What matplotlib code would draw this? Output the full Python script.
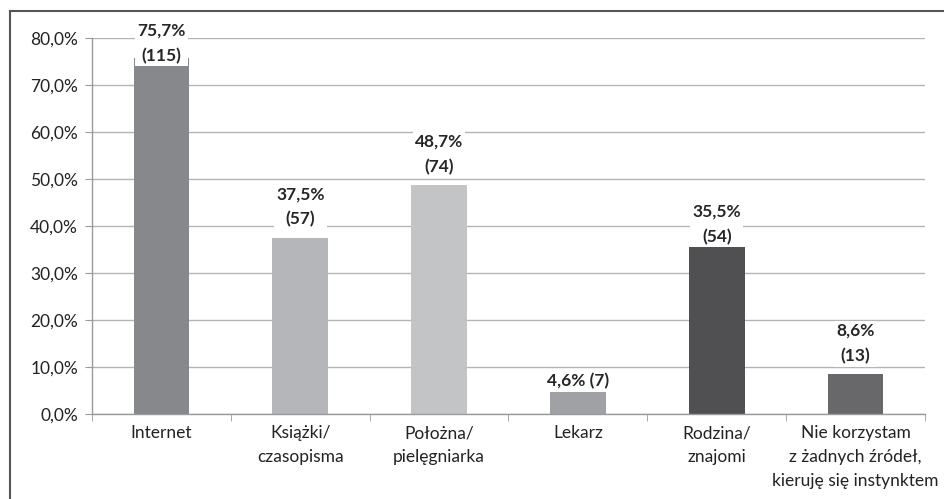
import matplotlib
matplotlib.use("Agg")
import matplotlib.pyplot as plt
from matplotlib.lines import Line2D
from matplotlib.ticker import FixedLocator, FuncFormatter

categories = ["Internet", "Książki/\nczasopisma", "Położna/\npielęgniarka", "Lekarz",
              "Rodzina/\nznajomi", "Nie korzystam\nz żadnych źródeł,\nkieruję się instynktem"]
percent = [75.7, 37.5, 48.7, 4.6, 35.5, 8.6]
counts = [115, 57, 74, 7, 54, 13]
bar_colors = ["#87888c", "#b5b6b9", "#c3c4c6", "#a0a1a4", "#505052", "#68686b"]
yticks = [0, 10, 20, 30, 40, 50, 60, 70, 80]
label_gap_px = [-6, 10, 10, 3, 2, 9]

plt.rcParams['font.family'] = ['Lato', 'DejaVu Sans']

fig = plt.figure(figsize=(9.44, 4.99), dpi=100)
ax = fig.add_axes([92/944, 1 - 414/499, (925-92)/944, (414-38)/499])

x = list(range(len(categories)))
ax.bar(x, percent, width=0.4, color=bar_colors, zorder=2)

ax.set_xlim(-0.5, len(categories) - 0.5)
ax.set_ylim(0, 80)
ax.yaxis.set_major_locator(FixedLocator(yticks))
ax.yaxis.set_major_formatter(FuncFormatter(lambda v, p: f"{v:.1f}%".replace(".", ",")))
ax.grid(axis='y', color='#b4b4b4', linewidth=1.0, zorder=0)
ax.set_axisbelow(True)

ax.set_xticks(x)
ax.set_xticklabels(categories, fontsize=12.5, color='#222222', linespacing=1.62, va='top')
ax.set_xticks([i + 0.5 for i in range(-1, len(categories))], minor=True)
ax.tick_params(axis='x', which='major', length=0, pad=8)
ax.tick_params(axis='x', which='minor', length=5, color='#9a9a9a', direction='out')
ax.tick_params(axis='y', length=5, color='#9a9a9a', labelsize=12.5, labelcolor='#222222', pad=5)

for s in ['top', 'right']:
    ax.spines[s].set_visible(False)
for s in ['left', 'bottom']:
    ax.spines[s].set_color('#9a9a9a')
    ax.spines[s].set_linewidth(1.0)

for i, (p, c) in enumerate(zip(percent, counts)):
    ptxt = f"{p:.1f}%".replace(".", ",")
    if c < 10:
        txt = f"{ptxt} ({c})"
    else:
        txt = f"{ptxt}\n({c})"
    ax.annotate(txt, xy=(i, p), xytext=(0, label_gap_px[i]), textcoords='offset pixels',
                ha='center', va='bottom', fontsize=12.5, fontweight='bold', color='#262626',
                linespacing=1.7, annotation_clip=False, zorder=4,
                bbox=dict(boxstyle='square,pad=0.12', facecolor='white', edgecolor='none'))

# outer frame (left and top edges visible)
fig.add_artist(Line2D([10/944, 10/944], [0, 1 - 11/499], transform=fig.transFigure,
                      color='#555555', linewidth=1.5))
fig.add_artist(Line2D([10/944, 1], [1 - 11/499, 1 - 11/499], transform=fig.transFigure,
                      color='#555555', linewidth=1.5))

fig.savefig("out.png", dpi=100)
